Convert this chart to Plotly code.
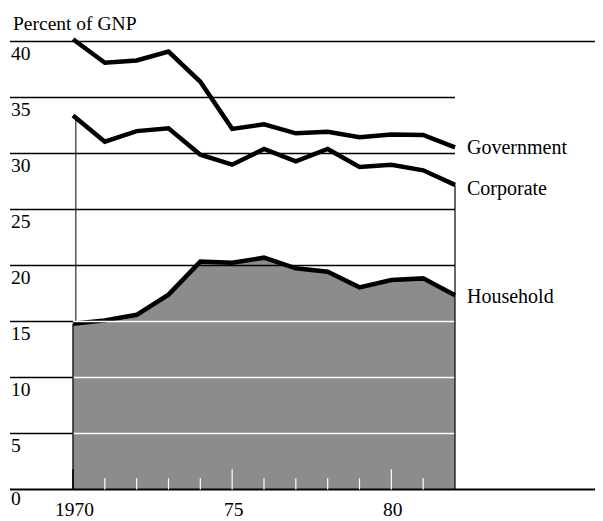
import plotly.graph_objects as go

years = list(range(1970, 1983))
government = [40.2, 38.1, 38.3, 39.1, 36.4, 32.2, 32.6, 31.8, 31.95, 31.45, 31.7, 31.65, 30.55]
corporate = [33.4, 31.05, 32.0, 32.25, 29.9, 29.0, 30.4, 29.3, 30.4, 28.8, 29.0, 28.5, 27.2]
household = [14.8, 15.1, 15.6, 17.4, 20.35, 20.25, 20.7, 19.75, 19.45, 18.05, 18.7, 18.85, 17.35]
y_ticks = [0, 5, 10, 15, 20, 25, 30, 35, 40]
x_ticks = [1970, 1975, 1980]
x_tick_text = ["1970", "75", "80"]
series_names = ["Government", "Corporate", "Household"]

# page has a default 8px body margin, so the figure is drawn 8px smaller and offset
OFF = 8
WIN_W, WIN_H = 603, 521
W, H = WIN_W - OFF, WIN_H - OFF
PX_YEAR = 382 / 12.0
X0 = 1970 - (73 - OFF) / PX_YEAR
X1 = 1982 + (WIN_W - 455) / PX_YEAR
PX_UNIT = 11.2
Y1 = (489.5 - OFF) / PX_UNIT
Y0 = -(WIN_H - 489.5) / PX_UNIT
XL = X0 + (10 - OFF) / PX_YEAR  # left start of gridlines

FONT = "Liberation Serif, Times New Roman, serif"
FS = 19.5

fig = go.Figure()
fig.add_trace(go.Scatter(x=years, y=household, mode="lines", fill="tozeroy",
                         fillcolor="#8c8c8c", line=dict(color="black", width=4.5),
                         hoverinfo="skip"))
fig.add_trace(go.Scatter(x=years, y=corporate, mode="lines",
                         line=dict(color="black", width=4.5), hoverinfo="skip"))
fig.add_trace(go.Scatter(x=years, y=government, mode="lines",
                         line=dict(color="black", width=4.5), hoverinfo="skip"))

shapes = []
first, last = years[0], years[-1]
for v in y_ticks:
    if v == 0:
        shapes.append(dict(type="line", xref="x", yref="y", x0=XL, x1=X1, y0=0, y1=0,
                           line=dict(color="black", width=2), layer="above"))
    elif v == 40:
        shapes.append(dict(type="line", xref="x", yref="y", x0=XL, x1=X1, y0=v, y1=v,
                           line=dict(color="black", width=1.4), layer="below"))
    elif v >= 20:
        shapes.append(dict(type="line", xref="x", yref="y", x0=XL, x1=last, y0=v, y1=v,
                           line=dict(color="black", width=1.4), layer="above"))
    else:
        shapes.append(dict(type="line", xref="x", yref="y", x0=XL, x1=first, y0=v, y1=v,
                           line=dict(color="black", width=1.4), layer="above"))
        shapes.append(dict(type="line", xref="x", yref="y", x0=first, x1=last, y0=v, y1=v,
                           line=dict(color="white", width=1.6), layer="above"))

# vertical frame lines
shapes.append(dict(type="line", xref="x", yref="y", x0=first + 0.09, x1=first + 0.09,
                   y0=household[0], y1=corporate[0], line=dict(color="black", width=1),
                   layer="below"))
shapes.append(dict(type="line", xref="x", yref="y", x0=first, x1=first,
                   y0=0, y1=household[0], line=dict(color="#222", width=1.5),
                   layer="above"))
shapes.append(dict(type="line", xref="x", yref="y", x0=last, x1=last,
                   y0=0, y1=corporate[-1], line=dict(color="black", width=1.2),
                   layer="above"))

# small year ticks inside the shaded area
for yr in years[1:-1]:
    h = 1.8 if yr in x_ticks else 1.0
    shapes.append(dict(type="line", xref="x", yref="y", x0=yr, x1=yr, y0=0, y1=h,
                       line=dict(color="white", width=1.2), layer="above"))
shapes.append(dict(type="line", xref="x", yref="y", x0=first, x1=first, y0=0, y1=1.8,
                   line=dict(color="black", width=1.5), layer="above"))

annotations = []
for v in y_ticks:
    yy = -0.8 if v == 0 else v - 1.05
    annotations.append(dict(x=XL - 1 / PX_YEAR, y=yy, xref="x", yref="y", text=str(v),
                            showarrow=False, xanchor="left", yanchor="middle",
                            font=dict(family=FONT, size=FS, color="black")))
for xv, t in zip(x_ticks, x_tick_text):
    annotations.append(dict(x=xv + 0.06, y=-1.75, xref="x", yref="y", text=t,
                            showarrow=False, xanchor="center", yanchor="middle",
                            font=dict(family=FONT, size=FS, color="black")))
annotations.append(dict(x=XL + 1 / PX_YEAR, y=41.65, xref="x", yref="y",
                        text="Percent of GNP", showarrow=False, xanchor="left",
                        yanchor="middle", font=dict(family=FONT, size=FS, color="black")))
label_y = [government[-1], corporate[-1] - 0.35, household[-1] - 0.1]
for name, yy in zip(series_names, label_y):
    annotations.append(dict(x=last + 10 / PX_YEAR, y=yy, xref="x", yref="y", text=name,
                            showarrow=False, xanchor="left", yanchor="middle",
                            font=dict(family=FONT, size=20, color="black")))

fig.update_layout(
    width=W, height=H,
    margin=dict(l=0, r=0, t=0, b=0),
    paper_bgcolor="white", plot_bgcolor="white",
    showlegend=False,
    xaxis=dict(range=[X0, X1], visible=False, fixedrange=True),
    yaxis=dict(range=[Y0, Y1], visible=False, fixedrange=True),
    shapes=shapes,
    annotations=annotations,
)

fig.write_html("out.html")
